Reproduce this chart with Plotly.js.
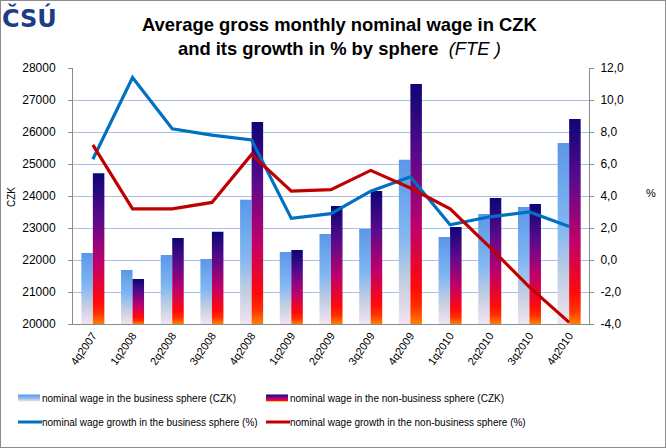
<!DOCTYPE html>
<html>
<head>
<meta charset="utf-8">
<script src="https://cdn.plot.ly/plotly-3.0.1.min.js"></script>
<style>
html,body{margin:0;padding:0;background:#fff;}
#wrap{position:relative;width:666px;height:448px;}
#chart{width:666px;height:448px;}
#frame{position:absolute;left:0;top:0;width:664px;height:446px;border:1px solid #8c8c8c;pointer-events:none;}
</style>
</head>
<body>
<div id="wrap"><div id="chart"></div><div id="frame"></div></div>
<script>
// ---- data ----
const quarters = ['4q2007','1q2008','2q2008','3q2008','4q2008','1q2009','2q2009','3q2009','4q2009','1q2010','2q2010','3q2010','4q2010'];
const wageBusiness    = [22220, 21690, 22160, 22030, 23880, 22250, 22810, 22970, 25130, 22720, 23440, 23660, 25660];
const wageNonBusiness = [24710, 21410, 22690, 22880, 26310, 22310, 23690, 24160, 27500, 23030, 23940, 23750, 26410];
const growthBusiness    = [6.3, 11.4, 8.2, 7.8, 7.5, 2.6, 2.9, 4.3, 5.2, 2.2, 2.7, 3.0, 2.1];
const growthNonBusiness = [7.2, 3.2, 3.2, 3.6, 6.6, 4.3, 4.4, 5.6, 4.5, 3.2, 0.8, -1.7, -3.9];
const leftTickVals = [20000, 21000, 22000, 23000, 24000, 25000, 26000, 27000, 28000];
const rightTickVals = [-4, -2, 0, 2, 4, 6, 8, 10, 12];
const rightTickText = ['-4,0', '-2,0', '0,0', '2,0', '4,0', '6,0', '8,0', '10,0', '12,0'];
const seriesNames = [
  'nominal wage in the business sphere (CZK)',
  'nominal wage in the non-business sphere (CZK)',
  'nominal wage growth in the business sphere (%)',
  'nominal wage growth in the non-business sphere (%)'
];
const titleText = '<b>Average gross monthly nominal wage in CZK<br>and its growth in % by sphere</b>  <i>(FTE )</i>';

const FONT = 'Liberation Sans, Arial, sans-serif';
const traces = [
  {type:'bar', x:quarters, y:wageBusiness, name:seriesNames[0], marker:{color:'#6aa6ee', line:{width:0}}, legend:'legend'},
  {type:'bar', x:quarters, y:wageNonBusiness, name:seriesNames[1], marker:{color:'#6a0a8a', line:{width:0}}, legend:'legend2'},
  {type:'scatter', mode:'lines', x:quarters, y:growthBusiness, yaxis:'y2', name:seriesNames[2], line:{color:'#0070c0', width:3.2}, legend:'legend3'},
  {type:'scatter', mode:'lines', x:quarters, y:growthNonBusiness, yaxis:'y2', name:seriesNames[3], line:{color:'#c00000', width:3.2}, legend:'legend4'}
];

const W=666, H=448;
const L=73, R=77, T=68, B=124, PW=W-L-R, PH=H-T-B;
const px = v => (v - L) / PW;
const py = v => (H - B - v) / PH;
const cx = v => v / W;
const cy = v => 1 - v / H;
const legBase = {orientation:'h', xanchor:'left', yanchor:'middle', xref:'container', yref:'container',
                 font:{size:10, family:FONT, color:'#000'}, bgcolor:'rgba(0,0,0,0)'};

const layout = {
  width:W, height:H,
  margin:{l:L, r:R, t:T, b:B, pad:0, autoexpand:false},
  paper_bgcolor:'#ffffff', plot_bgcolor:'#ffffff',
  font:{family:FONT, size:12, color:'#000'},
  separators:', ',
  barmode:'group', bargap:0.42, bargroupgap:0,
  xaxis:{type:'category', tickangle:-55, tickfont:{size:11, family:FONT}, showgrid:false,
         showline:true, linecolor:'#8c8c8c', linewidth:1, ticks:'', automargin:false, zeroline:false},
  yaxis:{range:[20000,28000], tickvals:leftTickVals, tickformat:'d', showgrid:true, gridcolor:'#a9c0e6', gridwidth:1,
         showline:true, linecolor:'#8c8c8c', linewidth:1, ticks:'outside', ticklen:4, tickcolor:'#8c8c8c',
         ticklabelstandoff:10, tickfont:{size:12, family:FONT}, zeroline:false, automargin:false},
  yaxis2:{range:[-4,12], overlaying:'y', side:'right', tickvals:rightTickVals, ticktext:rightTickText,
          showgrid:false, showline:true, linecolor:'#8c8c8c', linewidth:1, ticks:'outside', ticklen:4, tickcolor:'#8c8c8c',
          ticklabelstandoff:4, tickfont:{size:12, family:FONT}, zeroline:false, automargin:false},
  showlegend:true,
  legend: Object.assign({}, legBase, {x:cx(2),   y:cy(398)}),
  legend2:Object.assign({}, legBase, {x:cx(250), y:cy(398)}),
  legend3:Object.assign({}, legBase, {x:cx(2),   y:cy(422)}),
  legend4:Object.assign({}, legBase, {x:cx(250), y:cy(422)}),
  annotations:[
    {text:titleText, xref:'paper', yref:'paper', x:px(340), y:py(36), xanchor:'center', yanchor:'middle', showarrow:false,
     font:{size:18.4, family:FONT, color:'#000'}},
    {text:'CZK', xref:'paper', yref:'paper', x:px(11), y:py(197), textangle:-90, showarrow:false, font:{size:10, family:FONT}, xanchor:'center', yanchor:'middle'},
    {text:'%', xref:'paper', yref:'paper', x:px(651), y:py(193), showarrow:false, font:{size:11, family:FONT}, xanchor:'center', yanchor:'middle'},
    {text:'<b>ČSÚ</b>', xref:'paper', yref:'paper', x:px(0), y:py(1), xanchor:'left', yanchor:'top', showarrow:false,
     font:{size:24, family:'DejaVu Sans, sans-serif', color:'#1b3c86'}}
  ]
};

const gradients = {
  gBus: [[0,'#5b97e9'],[0.45,'#7fb6f2'],[0.75,'#c4cfe2'],[1,'#f1e3f1']],
  gNon: [[0,'#0c0676'],[0.3,'#5a0a8c'],[0.6,'#c0006a'],[0.85,'#ff0a0a'],[0.93,'#ff3000'],[1,'#ff8000']]
};
const NS = 'http://www.w3.org/2000/svg';

function makeGrad(defs, id, stops, attrs){
  let lg = defs.querySelector('#'+id);
  if (lg) lg.remove();
  lg = document.createElementNS(NS,'linearGradient');
  lg.setAttribute('id', id);
  Object.keys(attrs).forEach(k => lg.setAttribute(k, attrs[k]));
  stops.forEach(s => {
    const st = document.createElementNS(NS,'stop');
    st.setAttribute('offset', s[0]); st.setAttribute('stop-color', s[1]);
    lg.appendChild(st);
  });
  defs.appendChild(lg);
}

function addGradients(gd){
  const svg = gd.querySelector('svg.main-svg');
  const defs = svg.querySelector('defs');
  const ids = ['gBus','gNon'];
  ids.forEach(id => makeGrad(defs, id, gradients[id], {x1:0,y1:0,x2:0,y2:1}));
  gd.querySelectorAll('.barlayer .trace').forEach((t,i) => {
    t.querySelectorAll('path').forEach((p,k) => {
      const bb = p.getBBox();
      const gid = ids[i] + '_' + k;
      makeGrad(defs, gid, gradients[ids[i]], {gradientUnits:'userSpaceOnUse', x1:0, x2:0, y1:bb.y, y2:PH});
      p.style.fill = 'url(#'+gid+')';
    });
  });
  ['legend','legend2'].forEach((lid,i) => {
    gd.querySelectorAll('g.'+lid+' .traces .legendpoints path').forEach(p => {
      p.setAttribute('d','M-11,3.5H11V-3.5H-11Z');
      p.setAttribute('transform','translate(27,0)');
      p.style.fill = 'url(#'+ids[i]+')';
    });
  });
  ['legend3','legend4'].forEach(lid => {
    gd.querySelectorAll('g.'+lid+' .traces .legendlines path').forEach(p => {
      p.setAttribute('d','M16,0h24');
    });
  });
}

const gd = document.getElementById('chart');
Plotly.newPlot(gd, traces, layout, {displayModeBar:false, staticPlot:true}).then(() => {
  addGradients(gd);
});
</script>
</body>
</html>
